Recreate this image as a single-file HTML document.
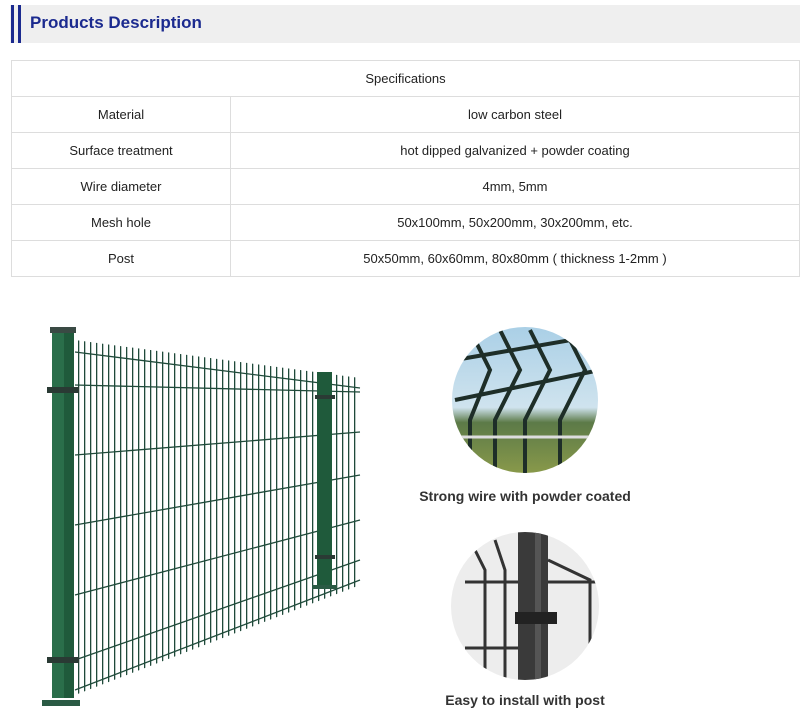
<!DOCTYPE html>
<html><head><meta charset="utf-8"><style>
body{margin:0;width:800px;height:725px;background:#fff;font-family:"Liberation Sans",sans-serif;position:relative;overflow:hidden}
.hdr{position:absolute;left:10px;top:5px;width:790px;height:38px;background:#efefef}
.b{position:absolute;top:5px;width:3px;height:38px;background:#1b2a8f}
.title{position:absolute;left:30px;top:13px;font-size:17px;font-weight:bold;color:#1b2a8f}
table{position:absolute;left:11px;top:60px;width:789px;border-collapse:collapse;font-size:13px;color:#222}
td{border:1px solid #ddd;height:35px;text-align:center;padding:0}
.cap{position:absolute;font-size:14px;font-weight:bold;color:#333;width:240px;text-align:center;left:405px}
</style></head><body>
<div class="hdr"></div><div class="b" style="left:11px"></div><div class="b" style="left:18px"></div>
<div class="title">Products Description</div>
<table>
<tr><td colspan="2">Specifications</td></tr>
<tr><td style="width:218px">Material</td><td>low carbon steel</td></tr>
<tr><td>Surface treatment</td><td>hot dipped galvanized + powder coating</td></tr>
<tr><td>Wire diameter</td><td>4mm, 5mm</td></tr>
<tr><td>Mesh hole</td><td>50x100mm, 50x200mm, 30x200mm, etc.</td></tr>
<tr><td>Post</td><td>50x50mm, 60x60mm, 80x80mm ( thickness 1-2mm )</td></tr>
</table>
<svg width="800" height="725" style="position:absolute;left:0;top:0">
<defs>
<pattern id="v" patternUnits="userSpaceOnUse" width="6" height="10"><rect x="0" y="0" width="1.3" height="10" fill="#1f4a3a"/></pattern>
<clipPath id="c1"><circle cx="525" cy="400" r="73"/></clipPath>
<clipPath id="c2"><circle cx="525" cy="606" r="74"/></clipPath>
<linearGradient id="sky" x1="0" y1="0" x2="0" y2="1"><stop offset="0" stop-color="#a9cfe6"/><stop offset="0.55" stop-color="#cfe3ee"/><stop offset="0.65" stop-color="#5c7a48"/><stop offset="1" stop-color="#8a9a4a"/></linearGradient>
</defs>
<polygon points="75,340 360,378 360,585 75,695" fill="url(#v)"/>
<g stroke="#1f4a3a" stroke-width="1.3" fill="none">
<line x1="75" y1="352" x2="360" y2="388"/>
<line x1="75" y1="385" x2="360" y2="392"/>
<line x1="75" y1="455" x2="360" y2="432"/>
<line x1="75" y1="525" x2="360" y2="475"/>
<line x1="75" y1="595" x2="360" y2="520"/>
<line x1="75" y1="660" x2="360" y2="560"/>
<line x1="75" y1="690" x2="360" y2="580"/>
</g>
<rect x="52" y="330" width="22" height="368" fill="#2a6e4a"/>
<rect x="64" y="330" width="10" height="368" fill="#1f5a3b"/>
<rect x="50" y="327" width="26" height="6" fill="#3a4a44"/>
<rect x="47" y="387" width="32" height="6" fill="#2a3a34"/>
<rect x="47" y="657" width="32" height="6" fill="#2a3a34"/>
<rect x="42" y="700" width="38" height="6" fill="#2a5a44"/>
<rect x="317" y="372" width="15" height="215" fill="#1f5a3b"/>
<rect x="315" y="395" width="20" height="4" fill="#2a3a34"/>
<rect x="315" y="555" width="20" height="4" fill="#2a3a34"/>
<rect x="312" y="585" width="25" height="4" fill="#2a5a44"/>
<g clip-path="url(#c1)">
<rect x="450" y="325" width="150" height="150" fill="url(#sky)"/>
<g stroke="#1e2e28" stroke-width="4" fill="none">
<path d="M455 400 L600 370"/><path d="M455 360 L600 335"/>
<path d="M470 330 L490 370 L470 420 L470 475"/><path d="M500 330 L520 370 L495 420 L495 475"/>
<path d="M530 330 L550 370 L525 420 L525 475"/><path d="M565 330 L585 370 L560 420 L560 475"/>
</g>
<line x1="450" y1="437" x2="600" y2="437" stroke="#ddd" stroke-width="3"/>
</g>
<g clip-path="url(#c2)">
<rect x="450" y="532" width="150" height="150" fill="#ededed"/>
<rect x="518" y="532" width="30" height="150" fill="#3a3a3a"/>
<rect x="535" y="532" width="6" height="150" fill="#555"/>
<g stroke="#333" stroke-width="3" fill="none">
<path d="M470 540 L485 570 L485 682"/><path d="M495 540 L505 570 L505 682"/><path d="M465 582 L518 582"/><path d="M465 648 L518 648"/><path d="M548 582 L600 582"/><path d="M548 560 L590 580 L590 682"/>
</g>
<rect x="515" y="612" width="42" height="12" fill="#222"/>
</g>
</svg>
<div class="cap" style="top:488px">Strong wire with powder coated</div>
<div class="cap" style="top:692px">Easy to install with post</div>
</body></html>
